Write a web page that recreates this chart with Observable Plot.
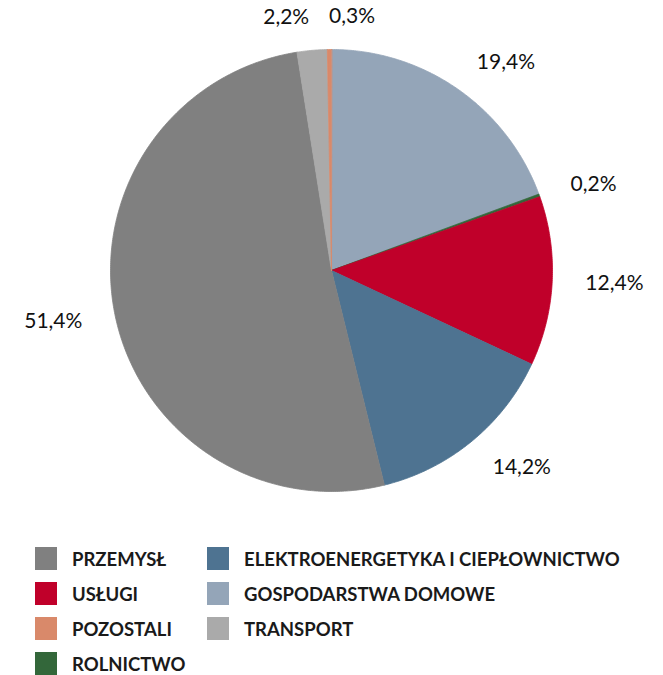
<!DOCTYPE html>
<html><head><meta charset="utf-8">
<script src="https://cdn.jsdelivr.net/npm/d3@7"></script>
<script src="https://cdn.jsdelivr.net/npm/@observablehq/plot@0.6"></script>
<style>
body{margin:0;background:#fff;font-family:Lato,sans-serif;}
#wrap{position:relative;width:663px;height:675px;}
#legend{position:absolute;left:0;top:541px;width:663px;}
.col{position:absolute;top:0;}
.item{display:flex;align-items:center;height:35px;font-weight:700;font-size:18.5px;color:#1a1a1a;white-space:nowrap;}
.sw{width:22px;height:23px;margin-right:15px;flex:none;}
</style></head><body><div id="wrap"><div id="chart"></div><div id="legend"></div></div>
<script>
// Data (clockwise from 12 o'clock)
const sectors = ["GOSPODARSTWA DOMOWE","ROLNICTWO","USŁUGI","ELEKTROENERGETYKA I CIEPŁOWNICTWO","PRZEMYSŁ","TRANSPORT","POZOSTALI"];
const shares = [19.4, 0.2, 12.4, 14.2, 51.4, 2.2, 0.3];
const colors = ["#94a5b8","#33673a","#c0002a","#4e7391","#808080","#aaaaaa","#d9896a"];
const legendCol1 = ["PRZEMYSŁ","USŁUGI","POZOSTALI","ROLNICTWO"];
const legendCol2 = ["ELEKTROENERGETYKA I CIEPŁOWNICTWO","GOSPODARSTWA DOMOWE","TRANSPORT"];

const W = 663, H = 541, R = 221, CX = 331, CY = 270;
const data = sectors.map((s, i) => ({key: s, share: shares[i]}));
const arcs = d3.pie().sort(null).value(d => d.share)(data);

// slice polygons in unit-radius coordinates
const poly = [];
arcs.forEach(a => {
  const k = a.data.key;
  poly.push({key: k, x: 0, y: 0});
  const n = Math.max(2, Math.ceil((a.endAngle - a.startAngle) / (Math.PI / 360)));
  for (let i = 0; i <= n; i++) {
    const t = a.startAngle + (a.endAngle - a.startAngle) * i / n;
    poly.push({key: k, x: Math.sin(t), y: Math.cos(t)});
  }
});

// labels
const fmt = v => d3.format(".1f")(v).replace(".", ",") + "%";
const labels = arcs.map(a => {
  const m = (a.startAngle + a.endAngle) / 2;
  const s = Math.sin(m), c = Math.cos(m), dist = 1.15;
  return {text: fmt(a.data.share), x: s * dist, y: c * dist,
          anchor: s > 0.15 ? "start" : s < -0.15 ? "end" : "middle"};
});
for (let i = 0; i < labels.length; i++) {
  const j = (i + 1) % labels.length;
  if (labels[i].anchor === "middle" && labels[j].anchor === "middle") {
    labels[i].anchor = "end"; labels[j].anchor = "start";
  }
}
const textMark = anchor => Plot.text(labels.filter(d => d.anchor === anchor), {
  x: "x", y: "y", text: "text", textAnchor: anchor, lineAnchor: "middle",
  fontSize: 21, fill: "#111", fontFamily: "Lato"
});

const chart = Plot.plot({
  width: W, height: H, margin: 0,
  x: {domain: [-CX / R, (W - CX) / R], axis: null},
  y: {domain: [-(H - CY) / R, CY / R], axis: null},
  color: {domain: sectors, range: colors},
  style: {background: "transparent", fontFamily: "Lato"},
  marks: [
    Plot.line(poly, {x: "x", y: "y", z: "key", fill: "key", stroke: "key", strokeWidth: 0.8, curve: "linear-closed"}),
    textMark("start"), textMark("end"), textMark("middle")
  ]
});
document.getElementById("chart").appendChild(chart);

// legend
const colorOf = k => colors[sectors.indexOf(k)];
const legend = document.getElementById("legend");
[[legendCol1, 35], [legendCol2, 207]].forEach(([items, left]) => {
  const col = document.createElement("div");
  col.className = "col"; col.style.left = left + "px";
  items.forEach(k => {
    const it = document.createElement("div"); it.className = "item";
    const sw = document.createElement("span"); sw.className = "sw"; sw.style.background = colorOf(k);
    const tx = document.createElement("span"); tx.textContent = k;
    it.appendChild(sw); it.appendChild(tx); col.appendChild(it);
  });
  legend.appendChild(col);
});
</script></body></html>
